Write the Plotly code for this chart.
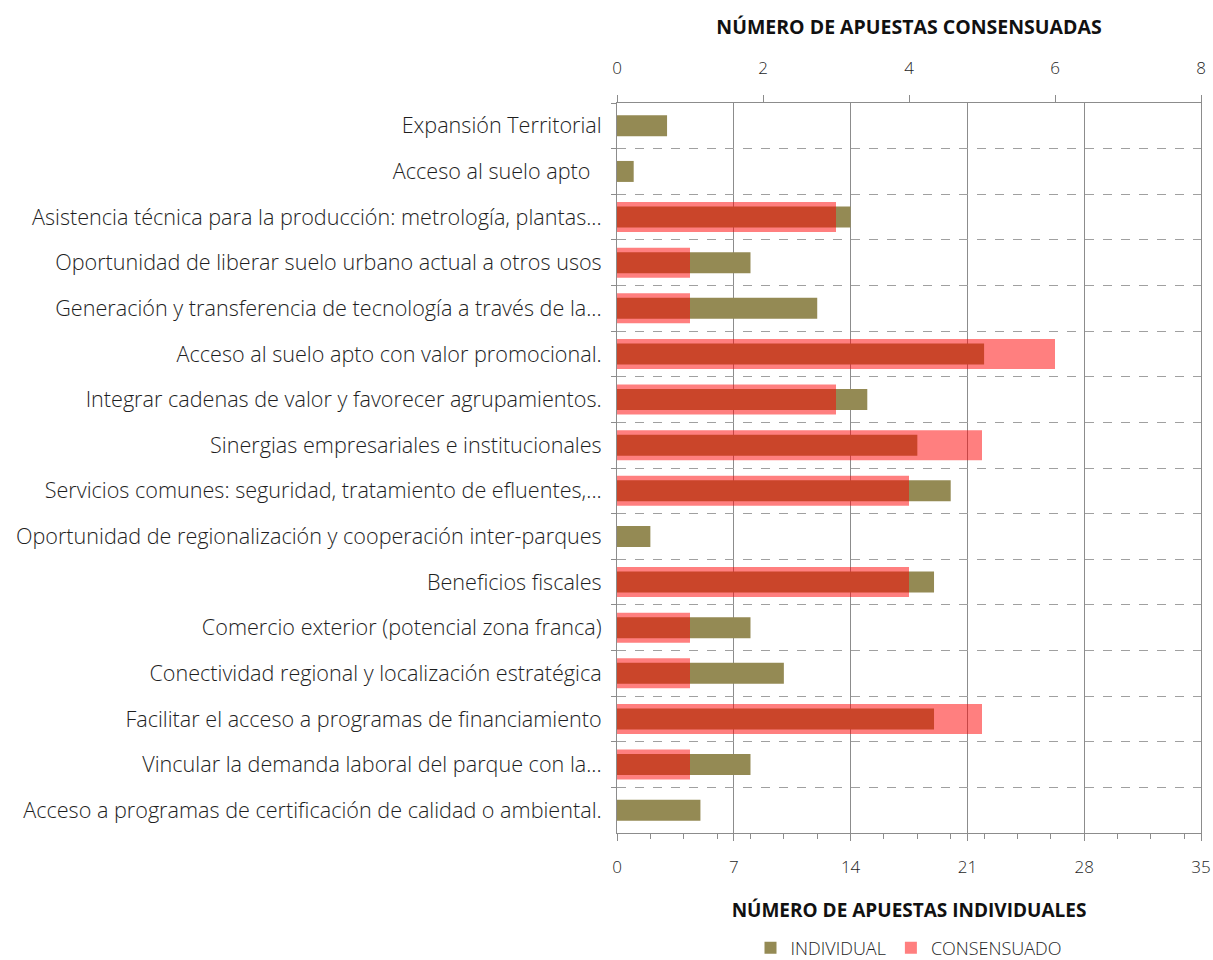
import plotly.graph_objects as go

categories = [
    "Expansión Territorial",
    "Acceso al suelo apto\u00a0\u00a0",
    "Asistencia técnica para la producción: metrología, plantas...",
    "Oportunidad de liberar suelo urbano actual a otros usos",
    "Generación y transferencia de tecnología a través de la...",
    "Acceso al suelo apto con valor promocional.",
    "Integrar cadenas de valor y favorecer agrupamientos.",
    "Sinergias empresariales e institucionales",
    "Servicios comunes: seguridad, tratamiento de efluentes,...",
    "Oportunidad de regionalización y cooperación inter-parques",
    "Beneficios fiscales",
    "Comercio exterior (potencial zona franca)",
    "Conectividad regional y localización estratégica",
    "Facilitar el acceso a programas de financiamiento",
    "Vincular la demanda laboral del parque con la...",
    "Acceso a programas de certificación de calidad o ambiental.",
]
individual = [3, 1, 14, 8, 12, 22, 15, 18, 20, 2, 19, 8, 10, 19, 8, 5]
consensuado = [0, 0, 3, 1, 1, 6, 3, 5, 4, 0, 4, 1, 1, 5, 1, 0]

bottom_ticks = [0, 7, 14, 21, 28, 35]
top_ticks = [0, 2, 4, 6, 8]

FONT = "Open Sans"
TXT = "#1e1e1e"
GRID = "#8c8c8c"

fig = go.Figure()
fig.add_trace(go.Bar(
    y=categories, x=individual, orientation="h", name="INDIVIDUAL",
    marker=dict(color="#948A54", line=dict(width=0)), width=0.46,
    xaxis="x", yaxis="y",
))
fig.add_trace(go.Bar(
    y=categories, x=consensuado, orientation="h", name="CONSENSUADO",
    marker=dict(color="rgba(255,0,0,0.5)", line=dict(width=0)), width=0.66,
    xaxis="x2", yaxis="y",
))

fig.update_layout(
    width=1213, height=960,
    margin=dict(l=617, r=12, t=103, b=127, autoexpand=False),
    paper_bgcolor="white", plot_bgcolor="white",
    barmode="overlay",
    font=dict(family=FONT, color=TXT, size=16),
    showlegend=True,
    legend=dict(orientation="h", x=0.5, xanchor="center", y=-0.1575, yanchor="middle",
                font=dict(size=18, family=FONT, color=TXT, weight=300), traceorder="normal"),
    xaxis=dict(
        range=[0, 35], tickvals=bottom_ticks, ticktext=[str(v) for v in bottom_ticks],
        showgrid=True, gridcolor=GRID, gridwidth=1,
        showline=True, linecolor=GRID, linewidth=1,
        ticks="outside", ticklen=7, tickcolor=GRID,
        minor=dict(dtick=2, tick0=0, ticks="outside", ticklen=5, tickcolor=GRID, showgrid=False),
        tickfont=dict(size=17, family=FONT, color=TXT, weight=300),
        ticklabelstandoff=12,
        title=dict(text="<b>NÚMERO DE APUESTAS INDIVIDUALES</b>", standoff=26,
                   font=dict(size=19, family=FONT, color="#111")),
        zeroline=False, fixedrange=True, automargin=False,
    ),
    xaxis2=dict(
        range=[0, 8], tickvals=top_ticks, overlaying="x", side="top",
        showgrid=False, showline=True, linecolor=GRID, linewidth=1,
        ticks="outside", ticklen=7, tickcolor=GRID,
        tickfont=dict(size=17, family=FONT, color=TXT, weight=300),
        ticklabelstandoff=14,
        title=dict(text="<b>NÚMERO DE APUESTAS CONSENSUADAS</b>", standoff=16,
                   font=dict(size=19.5, family=FONT, color="#111")),
        zeroline=False, fixedrange=True, automargin=False,
    ),
    yaxis=dict(
        type="category", categoryorder="array", categoryarray=categories,
        autorange="reversed", tickson="boundaries",
        showgrid=True, gridcolor="#a0a0a0", gridwidth=1, griddash="dash",
        showline=True, linecolor=GRID, linewidth=1, mirror=True,
        ticks="outside", ticklen=5, tickcolor=GRID,
        tickfont=dict(size=21.6, family=FONT, color=TXT, weight=300),
        ticklabelstandoff=10,
        fixedrange=True, automargin=False,
    ),
)

fig.write_html(
    "out.html",
    config={"displayModeBar": False},
    post_script="document.body.style.margin='0';document.body.style.overflow='hidden';",
)
